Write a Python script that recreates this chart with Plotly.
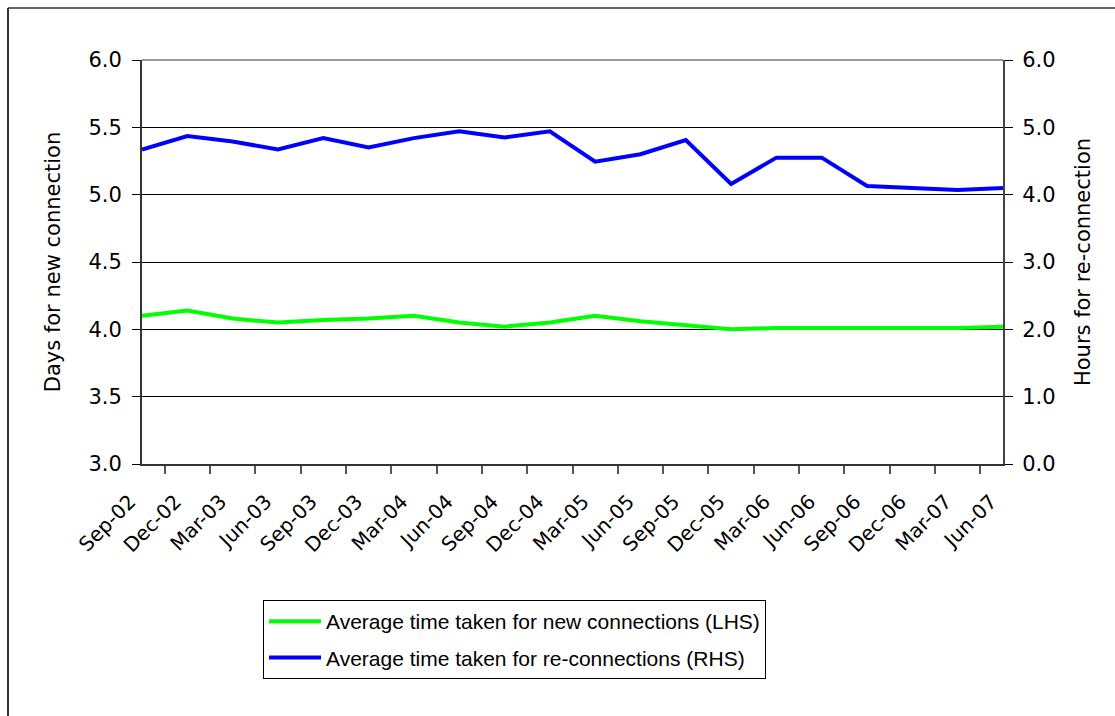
import plotly.graph_objects as go

# Quarterly periods
quarters = ["Sep-02", "Dec-02", "Mar-03", "Jun-03", "Sep-03", "Dec-03", "Mar-04", "Jun-04",
            "Sep-04", "Dec-04", "Mar-05", "Jun-05", "Sep-05", "Dec-05", "Mar-06", "Jun-06",
            "Sep-06", "Dec-06", "Mar-07", "Jun-07"]

# Average days taken for new connections (left axis)
new_conn_days = [4.10, 4.14, 4.08, 4.05, 4.07, 4.08, 4.10, 4.05, 4.02, 4.05,
                 4.10, 4.06, 4.03, 4.00, 4.01, 4.01, 4.01, 4.01, 4.01, 4.02]

# Average hours taken for re-connections (right axis)
reconn_hours = [4.67, 4.87, 4.79, 4.67, 4.84, 4.70, 4.84, 4.94, 4.85, 4.94,
                4.49, 4.60, 4.81, 4.16, 4.55, 4.55, 4.13, 4.10, 4.07, 4.10]

FONT = "Liberation Sans, Arial, sans-serif"
AXFONT = "DejaVu Sans, Liberation Sans, sans-serif"

fig = go.Figure()
fig.add_trace(go.Scatter(
    x=quarters, y=new_conn_days, mode="lines",
    name="Average time taken for new connections (LHS)",
    line=dict(color="#00FF00", width=4), legendgroup="a",
))
fig.add_trace(go.Scatter(
    x=quarters, y=reconn_hours, mode="lines", yaxis="y2",
    name="Average time taken for re-connections (RHS)",
    line=dict(color="#0000FF", width=4), legendgroup="b",
))

W, H = 1115, 716
L, R, T, B = 142, 112, 60, 252
pw, ph = W - L - R, H - T - B

def px_x(p):
    return (p - L) / pw

def px_y(p):
    return (H - B - p) / ph

axis_font = dict(family=AXFONT, size=20, color="black")

fig.update_layout(
    width=W, height=H,
    margin=dict(l=L, r=R, t=T, b=B, pad=0),
    paper_bgcolor="white", plot_bgcolor="white",
    font=dict(family=FONT, size=21, color="black"),
    showlegend=True,
    legend=dict(
        x=px_x(263), y=px_y(600), xanchor="left", yanchor="top",
        bordercolor="black", borderwidth=1, bgcolor="white",
        font=dict(family=FONT, size=21), tracegroupgap=6, itemwidth=52,
    ),
    xaxis=dict(
        type="category", tickson="boundaries", ticks="outside", ticklen=8,
        tickcolor="#555", tickwidth=2, tickangle=-45,
        showline=True, linecolor="#333", linewidth=2, showgrid=False,
        tickfont=axis_font, ticklabelstandoff=16, ticklabelshift=-12,
    ),
    yaxis=dict(
        range=[3, 6], dtick=0.5, tickformat=".1f", ticks="outside", ticklen=8,
        tickcolor="black", showline=True, linecolor="#333", linewidth=2,
        showgrid=True, gridcolor="black", gridwidth=1, zeroline=False,
        title=dict(text="Days for new connection", standoff=22,
                   font=dict(family=AXFONT, size=21)),
        tickfont=dict(family=AXFONT, size=21), ticklabelstandoff=6,
    ),
    yaxis2=dict(
        range=[0, 6], dtick=1, tickformat=".1f", ticks="outside", ticklen=8,
        tickcolor="black", overlaying="y", side="right",
        showline=True, linecolor="#444", linewidth=2, showgrid=False, zeroline=False,
        title=dict(text="Hours for re-connection", standoff=21,
                   font=dict(family=AXFONT, size=21)),
        tickfont=dict(family=AXFONT, size=21), ticklabelstandoff=5,
    ),
    shapes=[
        # grey top edge of the plotting area
        dict(type="line", xref="paper", yref="paper", x0=0, x1=1, y0=1, y1=1,
             line=dict(color="#999999", width=2)),
        # outer chart frame (left and top edges)
        dict(type="line", xref="paper", yref="paper", x0=px_x(8), x1=px_x(8),
             y0=px_y(8), y1=px_y(730), line=dict(color="#333", width=2)),
        dict(type="line", xref="paper", yref="paper", x0=px_x(8), x1=px_x(1130),
             y0=px_y(8), y1=px_y(8), line=dict(color="#333", width=1.5)),
    ],
)

fig.write_html("out.html")
